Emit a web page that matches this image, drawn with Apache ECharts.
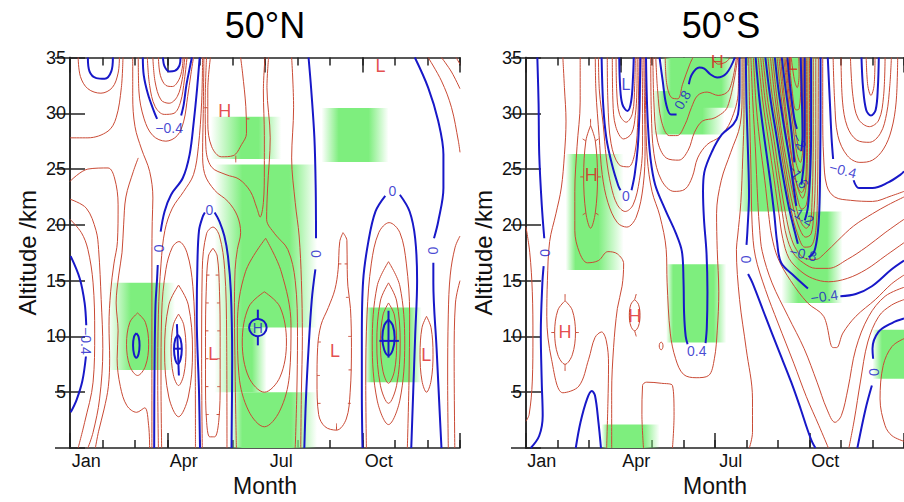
<!DOCTYPE html>
<html><head><meta charset="utf-8">
<script src="https://cdn.jsdelivr.net/npm/echarts/dist/echarts.min.js"></script>
<style>html,body{margin:0;padding:0;background:#fff}#c{width:904px;height:502px}</style>
</head><body><div id="c"></div>
<script>
// ---------- DATA (month index 0..12, altitude km) ----------
const months = ['Jan','Feb','Mar','Apr','May','Jun','Jul','Aug','Sep','Oct','Nov','Dec'];
const panelTitles = ['50°N', '50°S'];

// green bands: [fadeStart, solidStart, solidEnd, fadeEnd, kmBottom, kmTop]
const northGreen = [
  [1.17,1.87,2.49,3.23, 7.0,14.8],
  [4.33,5.26,5.8,6.5, 25.9,29.7],
  [4.45,5.3,6.75,7.6, 10.8,25.4],
  [4.45,5.3,5.6,6.05, 5.0,10.8],
  [4.9,5.3,6.8,7.6, 0,5.0],
  [7.74,8.27,9.19,9.8, 25.64,30.47],
  [9.07,9.28,10.42,10.82, 5.9,12.6]
];
const southGreen = [
  [1.26,1.57,2.3,3.1, 15.95,26.36],
  [2.4,2.6,3.72,4.24, 0,2.1],
  [4.45,4.67,5.96,6.36, 9.45,16.46],
  [4.0,4.4,5.6,6.3, 28.1,32.0],
  [4.3,4.6,6.2,6.7, 30.5,35],
  [6.67,7.2,8.9,9.43, 21.2,35],
  [8.11,8.64,9.56,10.05, 13.0,21.2],
  [11.0,11.3,12,12, 6.2,10.6]
];

// blue (labelled) contours, null = gap for a label
const northBlue = [
  [[0.55,35],[0.6,33.75],[0.81,33.15],[1.07,33.09],[1.27,33.75],[1.32,35]],
  [[0.02,17.2],[0.3,15.2],[0.45,13.0],[0.5,11.0],null,[0.49,8.2],[0.38,6.0],[0.2,4.3],[0.02,3.2]],
  [[2.86,35],[2.91,34.2],[3.06,33.75],[3.22,33.8],[3.37,34.3],[3.4,35]],
  [[2.24,35],[2.27,33.4],[2.4,31.7],[2.58,30.2],[2.68,29.5],null,[3.42,29.8],[3.5,30.8],[3.58,32.5],[3.68,34],[3.75,35]],
  [[3.99,35],[3.91,32.2],[3.81,29.3],[3.68,26.3],[3.47,24.2],[3.11,22.7],[2.91,21.2],[2.79,19.4],null,[2.7,16.4],[2.68,15.2],[2.63,12.7],[2.6,7],[2.59,0]],
  [[4.0,0],[3.97,5],[3.9,11.8],[3.92,16.5],[3.97,19.5],[4.08,20.7],[4.15,21.1],null,[4.45,21.1],[4.6,20.3],[4.75,19.0],[4.86,17.2],[4.95,14],[4.99,8],[4.97,0]],
  [[7.34,35],[7.42,32.2],[7.52,27.8],[7.56,23.3],[7.57,18.8],null,[7.55,16.0],[7.44,13.3],[7.34,8.9],[7.26,4.4],[7.21,0]],
  [[9.0,0],[8.98,5],[8.98,10],[9.02,15],[9.18,18.5],[9.4,21.2],[9.7,22.6],null,[10.15,22.7],[10.45,21.2],[10.62,18.8],[10.68,15],[10.62,10],[10.56,5],[10.5,0]],
  [[10.61,35],[11.02,32.3],[11.33,29.3],[11.49,26.3],[11.49,23.3],[11.33,20.3],[11.2,18.8],null,[11.18,16.6],[11.18,14.8],[11.28,8.9],[11.38,2.9],[11.43,0]],
  [[2.04,10.3],[2.11,9.97],[2.14,9.2],[2.11,8.43],[2.04,8.1],[1.97,8.43],[1.94,9.2],[1.97,9.97],[2.04,10.3]],
  [[3.32,10.15],[3.4,9.76],[3.44,8.85],[3.4,7.94],[3.32,7.55],[3.24,7.94],[3.2,8.85],[3.24,9.76],[3.32,10.15]],
  [[3.29,11.1],[3.35,6.5]],
  [[3.22,8.9],[3.43,8.9]],
  [[5.78,11.58],[5.97,11.35],[6.05,10.8],[5.97,10.25],[5.78,10.02],[5.59,10.25],[5.51,10.8],[5.59,11.35],[5.78,11.58]],
  [[5.78,11.58],[5.78,12.4]],
  [[5.78,10.02],[5.78,9.2]],
  [[9.8,11.5],[9.93,11.02],[9.99,9.9],[9.93,8.78],[9.8,8.3],[9.67,8.78],[9.61,9.9],[9.67,11.02],[9.8,11.5]],
  [[9.8,12.3],[9.8,8.1]],
  [[9.52,9.6],[10.12,9.6]]
];

const northRed = [
  [[1.63,35],[1.58,32.3],[1.42,29.6],[1.17,28.4],[0.55,27.8],[0,27.8]],
  [[0.25,35],[0.32,33.3],[0.55,32.2],[0.95,31.8],[1.3,32.3],[1.48,33.6],[1.52,35]],
  [[0,23.9],[0.55,25.0],[1.17,25.1],[1.37,24.2],[1.48,21.8],[1.46,18.5],[1.35,16.5],[1.25,14],[1.2,11],[1.22,8],[1.18,5.5],[1.05,3.5],[0.88,1.5],[0.78,0]],
  [[0,20.5],[0.35,19.3],[0.55,17.8],[0.71,14.8],[0.76,10.3],[0.71,5.9],[0.45,2.3],[0.25,0]],
  [[0,22.3],[0.5,21.5],[0.8,19.5],[0.88,17.8],[0.96,13.3],[1.01,8.9],[0.91,4.4],[0.71,1.4],[0.55,0]],
  [[2.08,12.1],[2.32,11.26],[2.42,9.3],[2.32,7.34],[2.08,6.5],[1.84,7.34],[1.74,9.3],[1.84,11.26],[2.08,12.1]],
  [[2.1,26.0],[1.95,24.8],[1.72,22.5],[1.65,20],[1.6,17.5],[1.5,15.5],[1.42,13],[1.48,10.5],[1.45,8],[1.55,5.5],[1.75,3.8],[2.05,3.2],[2.3,3.6],[2.42,2.0],[2.45,0]],
  [[2.52,0],[2.52,8],[2.52,13],[2.52,17.3],[2.53,20.3],[2.55,22.4],[2.45,24.8],[2.2,26.8],[2.0,28.8],[1.93,31.5],[1.93,35]],
  [[2.1,35],[2.12,32],[2.28,29.5],[2.55,28.0],[2.95,27.5],[3.3,28.0],[3.5,29.3],[3.62,31.5],[3.72,33.5],[3.8,35]],
  [[2.38,35],[2.45,32.5],[2.62,30.6],[2.9,29.9],[3.2,30.0],[3.4,31.0],[3.52,33],[3.6,35]],
  [[2.55,35],[2.62,32.8],[2.8,31.2],[3.05,30.9],[3.3,31.5],[3.45,33],[3.53,35]],
  [[2.72,35],[2.78,33.4],[2.95,32.5],[3.15,32.4],[3.35,33.0],[3.45,34],[3.48,35]],
  [[3.34,12.0],[3.5,11.04],[3.57,8.8],[3.5,6.56],[3.34,5.6],[3.18,6.56],[3.11,8.8],[3.18,11.04],[3.34,12.0]],
  [[3.34,14.6],[3.64,12.83],[3.77,8.7],[3.64,4.57],[3.34,2.8],[3.04,4.57],[2.91,8.7],[3.04,12.83],[3.34,14.6]],
  [[2.82,0],[2.8,6],[2.82,12],[2.95,16],[3.15,18.0],[3.35,18.5],[3.6,17.5],[3.78,14.5],[3.85,9],[3.86,0]],
  [[2.72,0],[2.7,6],[2.72,12],[2.8,16.5],[2.92,19.5],[3.15,21.5],[3.5,23.0],[3.8,24.5],[3.95,27],[4.05,31],[4.08,35]],
  [[4.07,0],[4.05,8],[4.07,16],[4.2,19.2],[4.4,19.8],[4.6,19.0],[4.76,16],[4.82,10],[4.83,0]],
  [[4.4,17.9],[4.53,17.2],[4.6,14],[4.62,10],[4.62,6],[4.58,2.5],[4.45,1.0],[4.3,1.0],[4.2,2.5],[4.17,6],[4.17,10],[4.19,14],[4.26,17.2],[4.4,17.9]],
  [[4.32,35],[4.24,32.1],[4.24,29.1],[4.36,27.0],[4.66,26.1],[5.02,26.2],[5.28,27.2],[5.43,28.2],[5.41,30.6],[5.31,33.6],[5.25,35]],
  [[4.2,35],[4.16,31],[4.18,27],[4.35,25.2],[4.8,24.5],[5.2,24.1],[5.55,23.0],[5.75,21.5],[5.85,20.7],[5.95,22],[5.98,25],[5.98,28],[5.95,32],[6.0,35]],
  [[4.12,35],[4.1,30],[4.08,26.5],[4.14,24.6],[4.45,23.1],[4.86,22.1],[5.15,20.8],[5.25,19.3],[5.15,17.8],[5.08,16],[5.06,12],[5.08,7],[5.1,3],[5.12,0]],
  [[5.98,14.0],[6.46,12.65],[6.66,9.5],[6.46,6.35],[5.98,5.0],[5.5,6.35],[5.3,9.5],[5.5,12.65],[5.98,14.0]],
  [[6.02,18.8],[6.5,15.8],[6.8,11],[6.75,6.5],[6.45,3.3],[5.98,1.9],[5.5,3.3],[5.2,6.5],[5.15,11],[5.4,15.8],[6.02,18.8]],
  [[6.11,35],[6.06,32.3],[6.16,27.8],[6.08,23.3],[6.05,20.5],[6.3,19.2],[6.7,17.8],[6.93,15],[7.0,10],[6.98,5],[6.93,0]],
  [[6.82,35],[6.88,30.5],[6.82,26],[6.93,22],[7.05,19],[7.12,15],[7.15,10],[7.12,5],[7.1,0]],
  [[8.4,19.3],[8.52,18.6],[8.53,16],[8.55,14.5],[8.63,12.5],[8.66,9],[8.62,5],[8.5,2.6],[8.2,1.6],[7.85,1.9],[7.65,3],[7.6,6],[7.62,9],[7.72,11],[7.95,12.6],[8.15,14.2],[8.25,16],[8.3,18.5],[8.4,19.3]],
  [[9.8,13.0],[9.98,11.92],[10.05,9.4],[9.98,6.88],[9.8,5.8],[9.63,6.88],[9.55,9.4],[9.63,11.92],[9.8,13.0]],
  [[9.8,14.8],[10.05,13.18],[10.16,9.4],[10.05,5.62],[9.8,4.0],[9.55,5.62],[9.44,9.4],[9.55,13.18],[9.8,14.8]],
  [[9.8,16.7],[10.15,14.51],[10.3,9.4],[10.15,4.29],[9.8,2.1],[9.45,4.29],[9.3,9.4],[9.45,14.51],[9.8,16.7]],
  [[9.12,0],[9.1,6],[9.14,12],[9.27,16.5],[9.5,19.3],[9.82,20.2],[10.15,19.3],[10.35,16.5],[10.45,12],[10.43,6],[10.38,0]],
  [[10.97,11.8],[11.11,10.78],[11.17,8.4],[11.11,6.02],[10.97,5.0],[10.83,6.02],[10.77,8.4],[10.83,10.78],[10.97,11.8]],
  [[11.02,35],[11.43,32.9],[11.74,30.5],[11.95,27.5],[12,26.5]],
  [[11.43,35],[11.74,33.7],[12,32.2]],
  [[11.88,35],[12,34.4]],
  [[11.64,0],[11.62,6],[11.64,12],[11.7,15.5],[11.85,18],[12,19]],
  [[11.84,0],[11.82,8],[11.86,13],[12,15]]
];
// short hatch ticks on low / high centres: [x1,y1,x2,y2]
const northHatch = [
  [4.18,3,4.27,3],[4.17,5.5,4.26,5.5],[4.17,8,4.26,8],[4.17,10.5,4.26,10.5],[4.18,13,4.27,13],[4.2,15.5,4.29,15.5],
  [4.6,3,4.51,3],[4.62,5.5,4.53,5.5],[4.62,8,4.53,8],[4.62,10.5,4.53,10.5],[4.61,13,4.52,13],[4.57,15.5,4.48,15.5],
  [7.62,4,7.71,4],[7.6,6.5,7.69,6.5],[7.63,9.5,7.72,9.5],[8.64,4,8.55,4],[8.66,7,8.57,7],[8.65,10,8.56,10],
  [8.58,13.5,8.49,13.5],[8.53,16.5,8.45,16.5],[8.2,1.6,8.2,2.2],[8.27,16.5,8.35,16.5],
  [5.42,29.5,5.52,29.5],[5.1,26.2,5.1,25.6],[4.23,30.5,4.13,30.5]
];

const southBlue = [
  [[0.36,35],[0.4,30.8],[0.42,26.3],[0.5,21.8],[0.58,18.8],null,[0.56,16.3],[0.52,14.8],[0.47,10.3],[0.5,5.9],[0.53,2.9],[0.42,1.1],[0.15,0]],
  [[1.58,0],[1.73,2.3],[1.94,4.4],[2.09,5.1],[2.19,4.7],[2.3,2.3],[2.38,0]],
  [[2.96,35],[2.99,32.3],[3.06,30.8],[3.22,30.2],[3.34,31.1],[3.4,33.4],[3.42,35]],
  [[2.4,35],[2.45,30.8],[2.55,27.8],[2.73,25.4],[2.93,23.5],[3.0,23.1],null,[3.35,23.1],[3.45,24.5],[3.55,27],[3.6,30],[3.62,33],[3.63,35]],
  [[3.81,35],[3.83,32],[3.87,29],[3.95,26],[4.1,23.6],[4.43,21.3],[4.75,19.3],[4.95,17.6],[5.0,15],[5.02,12],[5.07,10],[5.13,9.3],null,[5.7,9.4],[5.74,10.8],[5.76,14],[5.73,17.5],[5.65,20.5],[5.62,23],[5.66,24.7],[5.91,26.6],[6.22,28.1],[6.58,29.0],[6.73,29.9],[6.78,32.3],[6.78,35]],
  [[4.24,35],[4.34,32.9],[4.45,30.8],[4.6,29.9],[4.78,29.9],null,[5.17,32.6],[5.27,33.5],[5.5,34.1],[5.66,34.0],[5.85,33.5],[6.07,33.2],[6.37,33.6],[6.63,35]],
  [[6.98,35],[7.0,30.8],[7.05,26.3],[7.08,22.7],[7.03,19.5],[7.0,18.2],null,[7.05,15.6],[7.19,14.8],[7.6,11.8],[8.0,8.9],[8.42,5.9],[8.72,3.5],[8.93,1.7],[9.09,0.5],[9.19,0]],
  [[7.29,35],[7.42,31],[7.58,27.5],[7.75,24],[7.88,21],[7.97,18.5],[8.1,16.6],[8.52,15.4],[8.95,14.3],null,[9.98,13.6],[10.47,13.8],[10.98,14.5],[11.6,16.0],[12,16.8]],
  [[7.6,35],[7.75,31.5],[7.95,28],[8.15,24.5],[8.35,21.5],[8.55,19.2],[8.63,18.3],null,[8.97,17.1],[9.15,17.6],[9.27,19.5],[9.32,22],[9.34,26],[9.35,30],[9.35,35]],
  [[7.9,35],[8.02,32],[8.18,29],[8.36,26],[8.5,23.3],[8.58,21.7],null,[8.85,20.4],[8.95,21.6],[9.02,24.5],[9.05,28],[9.05,35]],
  [[8.12,35],[8.25,32],[8.4,29],[8.52,25.6],null,[8.74,23.6],[8.82,25.5],[8.85,29],[8.85,35]],
  [[8.3,35],[8.4,32],[8.52,29.5],[8.6,28.6],null,[8.74,26.6],[8.78,28],[8.76,31],[8.72,35]],
  [[9.58,35],[9.6,33.8],[9.65,30.8],[9.7,27.8],[9.75,25.9],null,[10.4,24.0],[10.57,23.3],[11.0,23.3],[11.5,23.8],[11.89,24.5],[12,24.8]],
  [[10.52,0],[10.78,3.5],[10.98,5.6],null,[11.02,8.0],[11.0,8.9],[11.19,10.4],[11.62,11.2],[12,11.6]],
  [[10.65,35],[10.7,32.3],[10.8,30.3],[10.95,29.8],[11.1,30.3],[11.17,32.3],[11.2,35]]
];

const southRed = [
  [[0,19.8],[0.12,17.5],[0.2,14],[0.22,10],[0.2,6],[0.1,3],[0,2.4]],
  [[1.17,35],[1.22,32.3],[1.27,29.3],[1.22,26.3],[1.12,23.3],[0.95,21],[0.75,18.5],[0.68,15],[0.66,11.8],[0.81,7.96],[1.17,4.95],[1.68,5.55],[1.99,7.96],[2.19,9.9],[2.4,10.4],[2.55,9.6],[2.62,7.5],[2.6,4],[2.56,0]],
  [[1.72,35],[1.72,31],[1.62,27],[1.55,23],[1.55,19.5],[1.7,17.5],[1.95,16.6],[2.3,16.8],[2.6,17.6],[2.9,17.4],[3.1,16.5],[3.05,14.5],[2.9,12.5],[2.78,9],[2.72,5],[2.72,0]],
  [[3.68,35],[3.7,31],[3.7,27],[3.6,24],[3.4,21.8],[3.15,21.2],[2.9,21.8],[2.7,23.5],[2.55,26],[2.45,29],[2.33,32],[2.3,35]],
  [[3.74,35],[3.76,31],[3.78,27],[3.72,23.5],[3.5,20.7],[3.2,19.8],[2.9,20.2],[2.6,22],[2.42,24.5],[2.32,28],[2.22,32],[2.2,35]],
  [[3.78,35],[3.8,30],[3.85,26],[4.0,23],[4.25,20.8],[4.45,17.8],[4.48,14.8],[4.58,10.3],[4.75,8.0],[5.0,6.6],[5.4,6.3],[5.8,6.5],[5.98,8.0],[6.07,10.5],[6.12,14],[6.07,17.8],[6.05,21],[6.2,24],[6.5,26.5],[6.8,29],[6.86,32],[6.86,35]],
  [[2.58,35],[2.6,31],[2.7,27.3],[2.95,25.4],[3.25,25.2],[3.46,26.5],[3.55,29.5],[3.59,35]],
  [[2.74,35],[2.76,31],[2.85,28.8],[3.1,27.7],[3.35,28.2],[3.47,29.8],[3.52,32],[3.53,35]],
  [[2.86,35],[2.88,32],[2.97,29.9],[3.18,29.2],[3.38,30.0],[3.45,32.5],[3.47,35]],
  [[4.12,35],[4.18,32],[4.3,29.3],[4.55,28.0],[4.8,28.0],[5.05,29.0],[5.25,30.5],[5.45,31.6],[5.75,31.9],[6.1,31.6],[6.45,32.1],[6.68,35]],
  [[4.03,35],[4.06,31],[4.17,27.6],[4.45,26.0],[4.85,25.8],[5.15,26.7],[5.35,28.3],[5.6,29.3],[6.0,29.6],[6.4,30.6],[6.72,35]],
  [[3.96,35],[3.98,30],[4.06,26.4],[4.3,24.0],[4.7,23.0],[5.05,23.2],[5.28,24.3],[5.45,26.0],[5.75,27.2],[6.15,27.9],[6.5,29.3],[6.74,32],[6.75,35]],
  [[4.42,35],[4.47,32.6],[4.62,31.4],[4.82,31.3],[4.97,32.6],[5.2,34.4],[5.3,35]],
  [[5.9,35],[6.1,34.4],[6.35,34.6],[6.48,35]],
  [[3.73,0],[3.68,3],[3.7,5.6],[3.83,5.9],[4.3,5.8],[4.65,5.6],[4.7,2.9],[4.65,0]],
  [[1.24,13.2],[1.47,12.35],[1.57,10.35],[1.47,8.35],[1.24,7.5],[1.01,8.35],[0.91,10.35],[1.01,12.35],[1.24,13.2]],
  [[2.05,28.9],[2.2,27.52],[2.27,24.3],[2.2,21.08],[2.05,19.7],[1.9,21.08],[1.83,24.3],[1.9,27.52],[2.05,28.9]],
  [[3.45,13.3],[3.57,12.88],[3.62,11.9],[3.57,10.92],[3.45,10.5],[3.33,10.92],[3.28,11.9],[3.33,12.88],[3.45,13.3]],
  [[4.29,9.5],[4.33,9.4],[4.35,9.15],[4.33,8.9],[4.29,8.8],[4.25,8.9],[4.23,9.15],[4.25,9.4],[4.29,9.5]],
  [[6.92,35],[6.92,30],[6.88,26],[6.82,22],[6.72,19],[6.68,17.8],[6.78,13.3],[6.99,8.9],[7.19,4.4],[7.19,1.4],[7.09,0]],
  [[7.07,35],[7.1,30],[7.14,25],[7.18,20],[7.28,17.2],[7.6,14.2],[8.0,11.2],[8.5,7.6],[8.9,4.6],[9.3,2.0],[9.6,0]],
  [[10.25,0],[10.42,2.5],[10.62,6],[10.85,9.5],[11.2,11.8],[11.6,12.8],[12,13.3]],
  [[7.14,35],[7.2,31],[7.28,27],[7.36,22],[7.42,19.5],[7.5,17.6],[7.81,14.8],[8.32,11.8],[8.83,8.9],[9.24,5.9],[9.55,3.5],[9.81,2.3],[10.01,2.9],[10.22,5.3],[10.47,8.9],[10.88,11.8],[11.4,13.6],[12,14.4]],
  [[7.22,35],[7.3,31],[7.42,27.5],[7.58,24],[7.7,21],[7.8,19],[8.0,17.0],[8.4,15.0],[8.94,13.0],[9.45,11.8],[9.75,9.0],[9.86,9.0],[10.06,10.3],[10.47,11.8],[11.09,13.3],[11.6,14.7],[12,15.5]],
  [[7.37,35],[7.52,31],[7.7,27.5],[7.88,24],[8.03,21],[8.15,18.8],[8.35,17.0],[8.7,15.9],[9.1,15.2],[9.6,14.9],[10.2,15.2],[10.8,16.0],[11.4,17.2],[12,18.4]],
  [[7.45,35],[7.6,31],[7.8,27.5],[7.98,24],[8.14,21],[8.27,19.0],[8.48,17.5],[8.8,16.6],[9.2,16.1],[9.6,16.1],[10.2,16.9],[10.8,18.0],[11.4,19.3],[12,20.5]],
  [[7.52,35],[7.68,31],[7.88,27.5],[8.06,24],[8.24,21],[8.4,19.0],[8.58,17.8],[8.85,17.0],[9.2,16.9],[9.5,17.5],[9.9,18.6],[10.4,19.9],[11.0,21.0],[11.5,21.8],[12,22.5]],
  [[9.42,35],[9.42,30],[9.45,26],[9.55,23.5],[9.8,22.5],[10.3,22.2],[11.0,22.1],[11.6,22.6],[12,23.0]],
  [[7.68,35],[7.82,31.5],[8.02,28],[8.22,24.5],[8.42,21.3],[8.62,19.2],[8.85,18.0],[9.05,18.1],[9.2,19.5],[9.25,22.5],[9.27,27],[9.28,35]],
  [[7.76,35],[7.9,31.5],[8.08,28],[8.28,24.5],[8.48,21.6],[8.68,19.7],[8.88,18.9],[9.05,19.2],[9.13,20.8],[9.18,23.5],[9.2,28],[9.2,35]],
  [[7.83,35],[7.96,31.5],[8.13,28],[8.32,25],[8.52,22.2],[8.72,20.3],[8.9,19.7],[9.03,20.3],[9.08,22],[9.11,25],[9.12,28],[9.12,35]],
  [[7.97,35],[8.1,31.5],[8.26,28],[8.43,25],[8.6,22.6],[8.76,21.4],[8.9,21.8],[8.97,23.5],[9.0,26],[9.0,35]],
  [[8.03,35],[8.16,31.5],[8.32,28],[8.48,25.3],[8.64,23.2],[8.78,22.4],[8.88,23.2],[8.93,25.5],[8.95,35]],
  [[8.08,35],[8.2,31.5],[8.35,28],[8.47,25.5],[8.6,23.6],[8.75,22.9],[8.85,23.5],[8.9,25.5],[8.9,35]],
  [[8.18,35],[8.3,32],[8.43,28.5],[8.57,25.6],[8.7,24.7],[8.8,25.4],[8.83,28],[8.82,35]],
  [[8.22,35],[8.34,32],[8.47,29],[8.6,26.4],[8.71,25.6],[8.78,26.5],[8.8,29],[8.79,35]],
  [[8.26,35],[8.37,32],[8.5,29.5],[8.63,27.2],[8.72,26.6],[8.77,27.5],[8.77,30],[8.76,35]],
  [[8.35,35],[8.45,32],[8.57,30.3],[8.67,30.4],[8.72,32.5],[8.7,35]],
  [[8.42,35],[8.52,33],[8.61,32.3],[8.67,33.5],[8.66,35]],
  [[9.75,35],[9.8,31],[9.9,28],[10.2,26.2],[10.6,25.6],[11.0,25.8],[11.35,26.8],[11.6,28.5],[11.75,31],[11.8,35]],
  [[10.0,35],[10.05,31],[10.2,28.8],[10.5,27.6],[10.9,27.4],[11.25,28.2],[11.45,30],[11.55,32.5],[11.6,35]],
  [[10.3,35],[10.38,31.5],[10.55,29.5],[10.9,28.8],[11.2,29.4],[11.35,31.5],[11.4,35]],
  [[10.8,35],[10.85,32.5],[10.95,31.6],[11.05,32.5],[11.08,35]],
  [[12,9.8],[11.62,9.1],[11.34,7.4],[11.24,4.4],[11.4,2.0],[11.62,1.1],[12,0.6]]
];
const southHatch = [
  [1.24,13.2,1.24,13.8],[1.24,7.5,1.24,6.9],[0.91,10.35,0.8,10.35],[1.57,10.35,1.68,10.35],
  [2.05,28.9,2.05,29.5],[1.83,24.3,1.72,24.3],[2.27,24.3,2.38,24.3],[1.9,21.08,1.8,20.9],[2.2,21.08,2.3,20.9],
  [1.9,27.52,1.8,27.7],[2.2,27.52,2.3,27.7],[3.45,13.3,3.5,13.8],[3.45,10.5,3.5,10.0]
];

// labels: [month, km, text, rotation, colour, fontSize]
const northLabels = [
  [3.05,28.7,'−0.4',0,'b',14],[2.74,17.9,'0',90,'b',14],[4.29,21.3,'0',0,'b',14],
  [0.5,9.6,'−0.4',-90,'b',14],[7.57,17.4,'0',90,'b',14],[9.92,23.0,'0',0,'b',14],[11.18,17.7,'0',90,'b',14],
  [4.76,30.2,'H',0,'r',18],[4.41,8.4,'L',0,'r',18],[8.15,8.7,'L',0,'r',18],[10.96,8.3,'L',0,'r',18],
  [9.55,34.2,'L',0,'r',18],[5.78,10.8,'H',0,'b',14]
];
const southLabels = [
  [0.6,17.5,'0',90,'b',14],[3.17,22.6,'0',0,'b',14],[4.97,31.2,'0.8',60,'b',14],[5.42,8.7,'0.4',0,'b',14],
  [6.99,16.9,'0',90,'b',14],[8.67,27.5,'−2',-62,'b',14],[8.62,24.4,'−1.6',-55,'b',14],[8.72,20.9,'−1.2',-32,'b',14],
  [8.8,17.4,'−0.8',-12,'b',14],[9.47,13.6,'−0.4',8,'b',14],[10.06,24.9,'−0.4',-15,'b',14],[11.05,6.8,'0',90,'b',14],
  [1.24,10.4,'H',0,'r',18],[2.07,24.5,'H',0,'r',18],[3.45,11.8,'H',0,'r',18],[6.07,34.6,'H',0,'r',18],
  [8.47,34.4,'L',0,'r',18],[3.17,32.6,'L',0,'b',16]
];

// ---------- RENDERING ----------
const FONT = '"Liberation Sans", Arial, Helvetica, sans-serif';
const RED = '#c94a35', BLUE = '#1818c8', GREEN = '126,238,126', AXIS = '#222';
const NX = 5; // x axes per panel

function splitSegs(pts){
  const segs = []; let cur = [];
  pts.forEach(p => { if (p === null) { if (cur.length) segs.push(cur); cur = []; } else cur.push(p); });
  if (cur.length) segs.push(cur);
  return segs;
}
const series = [];
function addLines(list, color, width, panel){
  list.forEach(c => splitSegs(c).forEach(seg => series.push({
    type:'line', data:seg, xAxisIndex:panel*NX, yAxisIndex:panel*2, smooth:0.35, symbol:'none',
    silent:true, animation:false, clip:true, z: width > 1 ? 4 : 3,
    lineStyle:{color:color, width:width}
  })));
}
function addHatch(list, panel){
  addLines(list.map(h => [[h[0], h[1]], [h[2], h[3]]]), RED, 1, panel);
}
function addRects(rects, panel){
  series.push({
    type:'custom', xAxisIndex:panel*NX, yAxisIndex:panel*2, data:rects, encode:{x:[0,3], y:[4,5]},
    z:1, silent:true, animation:false, clip:true,
    renderItem: function(params, api){
      const x0 = api.value(0), s0 = api.value(1), s1 = api.value(2), x1 = api.value(3), y0 = api.value(4), y1 = api.value(5);
      const p0 = api.coord([x0, y1]), p1 = api.coord([x1, y0]);
      const o1 = (s0 - x0) / (x1 - x0), o2 = (s1 - x0) / (x1 - x0);
      return {type:'rect', shape:{x:p0[0], y:p0[1], width:p1[0]-p0[0], height:p1[1]-p0[1]},
        style:{fill:new echarts.graphic.LinearGradient(0,0,1,0,[
          {offset:0, color:'rgba('+GREEN+','+(s0===x0?1:0)+')'},
          {offset:o1, color:'rgba('+GREEN+',1)'},
          {offset:o2, color:'rgba('+GREEN+',1)'},
          {offset:1, color:'rgba('+GREEN+','+(s1===x1?1:0)+')'}])}};
    }
  });
}
function addLabels(items, panel){
  series.push({
    type:'scatter', xAxisIndex:panel*NX, yAxisIndex:panel*2, symbolSize:1, silent:true, animation:false, z:6,
    itemStyle:{color:'rgba(0,0,0,0)'},
    data: items.map(it => ({value:[it[0], it[1]], label:{show:true, position:'inside', formatter:it[2], rotate:it[3],
      color: it[4] === 'r' ? '#dd2020' : BLUE, fontSize:it[5], fontFamily:FONT, align:'center', verticalAlign:'middle'}}))
  });
}

addRects(northGreen, 0); addRects(southGreen, 1);
addLines(northRed, RED, 1, 0); addLines(southRed, RED, 1, 1);
addHatch(northHatch, 0); addHatch(southHatch, 1);
addLines(northBlue, BLUE, 2, 0); addLines(southBlue, BLUE, 2, 1);
addLabels(northLabels, 0); addLabels(southLabels, 1);

const lefts = [70, 526];
const grids = [], xAxes = [], yAxes = [];
const lineS = {color:AXIS, width:1.5};
lefts.forEach((L, p) => {
  grids.push({left:L, top:57.5, width:390, height:391});
  const mk = (pos, iv, len, showLine, extra) => Object.assign({gridIndex:p, type:'value', min:0, max:12, interval:iv,
    position:pos, splitLine:{show:false}, axisLabel:{show:false},
    axisLine:{show:showLine, lineStyle:lineS}, axisTick:{show:true, inside:true, length:len, lineStyle:lineS}}, extra || {});
  xAxes.push(mk('bottom', 1, 8, true, {name:'Month', nameLocation:'middle', nameGap:26,
    nameTextStyle:{fontSize:23, fontFamily:FONT, color:'#111'}}));
  xAxes.push(mk('bottom', 3, 15, false));
  xAxes.push(mk('top', 1, 8, true));
  xAxes.push(mk('top', 3, 15, false));
  xAxes.push({gridIndex:p, type:'category', data:months, position:'bottom', boundaryGap:true,
    axisLine:{show:false}, axisTick:{show:false}, splitLine:{show:false},
    axisLabel:{show:true, interval:function(i){ return i % 3 === 0; }, fontSize:18, margin:4, color:'#111', fontFamily:FONT}});
  const ybase = {gridIndex:p, type:'value', min:0, max:35, interval:5, splitLine:{show:false},
    axisLine:{show:true, lineStyle:lineS}, axisTick:{show:true, inside:true, length:15, lineStyle:lineS}};
  yAxes.push(Object.assign({}, ybase, {position:'left', name:'Altitude /km', nameLocation:'middle', nameRotate:90, nameGap:31,
    nameTextStyle:{fontSize:24, fontFamily:FONT, color:'#111'},
    axisLabel:{show:true, fontSize:18, margin:4, color:'#111', fontFamily:FONT, formatter:function(v){ return v === 0 ? '' : String(v); }}}));
  yAxes.push(Object.assign({}, ybase, {position:'right', axisLabel:{show:false}}));
});

const chart = echarts.init(document.getElementById('c'), null, {renderer:'svg', width:904, height:502});
chart.setOption({
  animation:false, backgroundColor:'#fff',
  grid:grids, xAxis:xAxes, yAxis:yAxes, series:series,
  graphic: panelTitles.map((t, i) => ({type:'text', x: i === 0 ? 265 : 721, y:25, silent:true,
    style:{text:t, fontSize:36, fontFamily:FONT, fill:'#000', align:'center', verticalAlign:'middle', textAlign:'center', textVerticalAlign:'middle'}}))
});
</script></body></html>
